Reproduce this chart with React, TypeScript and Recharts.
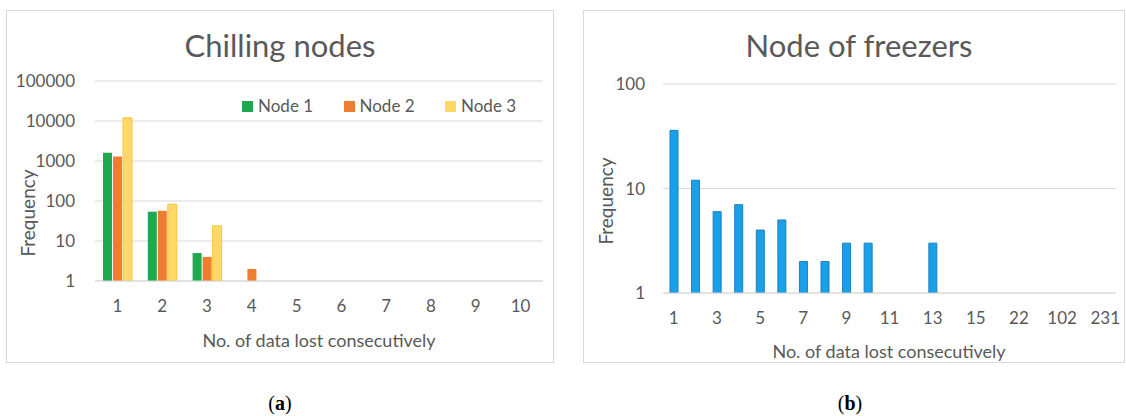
import React from 'react'
import { BarChart, Bar, XAxis, YAxis, CartesianGrid } from 'recharts'

// (a) chilling nodes, log scale
const chillCategories = ['1', '2', '3', '4', '5', '6', '7', '8', '9', '10']
const node1 = [1600, 54, 5, null, null, null, null, null, null, null]
const node2 = [1300, 57, 4, 2, null, null, null, null, null, null]
const node3 = [12000, 83, 24, null, null, null, null, null, null, null]
const chillTicks = [1, 10, 100, 1000, 10000, 100000]

// (b) freezer node
const freezerCategories = [
  '1', '2', '3', '4', '5', '6', '7', '8', '9', '10', '11',
  '12', '13', '14', '15', '18', '22', '36', '102', '150', '231',
]
const freezerFreq = [36, 12, 6, 7, 4, 5, 2, 2, 3, 3, 1, 1, 3, 1, 1, 1, 1, 1, 1, 1, 1]
const freezerTicks = [1, 10, 100]

const GRID = '#d9d9d9'
const TEXT = '#595959'
const FONT = 'Lato, "Open Sans", sans-serif'

const chillSeries = [
  { key: 'n1', name: 'Node 1', fill: '#1fa84f', stroke: undefined },
  { key: 'n2', name: 'Node 2', fill: '#ed7d31', stroke: undefined },
  { key: 'n3', name: 'Node 3', fill: '#ffd966', stroke: '#f2c73c' },
]

const chillData = chillCategories.map((c, i) => ({
  cat: c,
  n1: node1[i],
  n2: node2[i],
  n3: node3[i],
}))

const freezerData = freezerCategories.map((c, i) => ({ cat: c, freq: freezerFreq[i] }))

const tickStyle = { fontSize: 17, fill: TEXT, fontFamily: FONT }

function ChillLegend() {
  return (
    <div
      style={{
        position: 'absolute',
        left: 242,
        top: 96,
        display: 'flex',
        fontFamily: FONT,
        fontSize: 17,
        color: TEXT,
      }}
    >
      {chillSeries.map((s) => (
        <div key={s.key} style={{ display: 'flex', alignItems: 'center', width: 101.5 }}>
          <span style={{ width: 11, height: 11, background: s.fill, display: 'inline-block' }} />
          <span style={{ marginLeft: 5, lineHeight: '20px' }}>{s.name}</span>
        </div>
      ))}
    </div>
  )
}

function Panel({ left, top, width, height }: { left: number; top: number; width: number; height: number }) {
  return (
    <div
      style={{
        position: 'absolute',
        left,
        top,
        width,
        height,
        border: `1px solid ${GRID}`,
        boxSizing: 'border-box',
        background: 'white',
      }}
    />
  )
}

function Txt({ x, y, size, children, rotate, weight, family }: any) {
  return (
    <div
      style={{
        position: 'absolute',
        left: x,
        top: y,
        transform: `translate(-50%, -50%)${rotate ? ' rotate(-90deg)' : ''}`,
        whiteSpace: 'nowrap',
        fontSize: size,
        color: family ? '#000' : TEXT,
        fontFamily: family || FONT,
        fontWeight: weight || 'normal',
        lineHeight: 1,
      }}
    >
      {children}
    </div>
  )
}

export default function App() {
  return (
    <div style={{ position: 'absolute', left: 0, top: 0, width: 1126, height: 416, background: 'white', overflow: 'hidden' }}>
      <Panel left={6} top={10} width={548} height={353} />
      <Panel left={583} top={10} width={542} height={353} />

      <div style={{ position: 'absolute', left: 6, top: 10 }}>
        <BarChart
          width={547}
          height={352}
          data={chillData}
          margin={{ top: 71, right: 10, left: 0, bottom: 51 }}
          barSize={9}
          barGap={1}
        >
          <CartesianGrid vertical={false} stroke={GRID} />
          <XAxis
            dataKey="cat"
            tickLine={false}
            axisLine={{ stroke: GRID }}
            tick={tickStyle}
            tickMargin={13}
            height={30}
            interval={0}
          />
          <YAxis
            scale="log"
            domain={[1, 100000]}
            ticks={chillTicks}
            allowDataOverflow
            tickLine={false}
            axisLine={false}
            tick={tickStyle}
            tickMargin={14}
            width={89}
            interval={0}
          />
          {chillSeries.map((s) => (
            <Bar
              key={s.key}
              dataKey={s.key}
              name={s.name}
              fill={s.fill}
              stroke={s.stroke}
              strokeWidth={s.stroke ? 1 : 0}
              isAnimationActive={false}
            />
          ))}
        </BarChart>
      </div>

      <div style={{ position: 'absolute', left: 583, top: 10 }}>
        <BarChart
          width={541}
          height={352}
          data={freezerData}
          margin={{ top: 74, right: 8, left: 0, bottom: 39 }}
          barSize={8}
        >
          <CartesianGrid vertical={false} stroke={GRID} />
          <XAxis
            dataKey="cat"
            tickLine={false}
            axisLine={{ stroke: GRID }}
            tick={tickStyle}
            tickMargin={13}
            height={30}
            interval={1}
          />
          <YAxis
            scale="log"
            domain={[1, 100]}
            ticks={freezerTicks}
            allowDataOverflow
            tickLine={false}
            axisLine={false}
            tick={tickStyle}
            tickMargin={12}
            width={80}
            interval={0}
          />
          <Bar dataKey="freq" name="Frequency" fill="#1aa0e6" stroke="#1b7fc4" strokeWidth={1} isAnimationActive={false} />
        </BarChart>
      </div>

      <ChillLegend />

      <Txt x={280} y={45} size={31}>Chilling nodes</Txt>
      <Txt x={859} y={45} size={31}>Node of freezers</Txt>

      <Txt x={27} y={213} size={19} rotate>Frequency</Txt>
      <Txt x={605} y={201} size={19} rotate>Frequency</Txt>

      <Txt x={319} y={340} size={18}>No. of data lost consecutively</Txt>
      <Txt x={889} y={351} size={18}>No. of data lost consecutively</Txt>

      <Txt x={280} y={403} size={20} family={'"Liberation Serif", serif'}>
        (<b>a</b>)
      </Txt>
      <Txt x={850} y={403} size={20} family={'"Liberation Serif", serif'}>
        (<b>b</b>)
      </Txt>
    </div>
  )
}
